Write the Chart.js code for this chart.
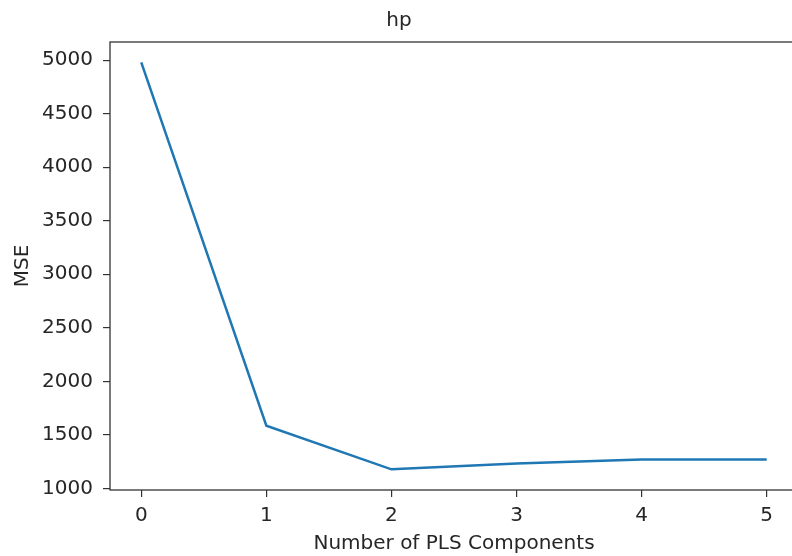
<!DOCTYPE html>
<html>
<head>
<meta charset="utf-8">
<script src="https://cdn.jsdelivr.net/npm/chart.js@4"></script>
<style>
  html, body { margin: 0; padding: 0; background: #fff; overflow: hidden; }
  #wrap { position: absolute; left: 0; top: 0; width: 800px; height: 556px; }
</style>
</head>
<body>
<div id="wrap"><canvas id="mseChart" width="800" height="556"></canvas></div>
<script>
// components on the x axis and the MSE
const components = [0, 1, 2, 3, 4, 5];
const mse = [4980, 1585, 1178, 1232, 1271, 1270];
const yTicks = [1000, 1500, 2000, 2500, 3000, 3500, 4000, 4500, 5000];

const axisColor = "#333333";
const textColor = "#262626";
const font = { family: "DejaVu Sans", size: 20, weight: "normal" };

// matplotlib style frame round the plot area
const framePlugin = {
    id: "frame",
    afterDraw(chart) {
        const a = chart.chartArea;
        const ctx = chart.ctx;
        ctx.save();
        ctx.strokeStyle = axisColor;
        ctx.lineWidth = 1.3;
        ctx.strokeRect(a.left, a.top, a.right - a.left, a.bottom - a.top);
        ctx.restore();
    }
};

new Chart(document.getElementById("mseChart"), {
    type: "line",
    data: {
        datasets: [{
            data: components.map((c, i) => ({ x: c, y: mse[i] })),
            borderColor: "#1f77b4",
            borderWidth: 2.5,
            pointRadius: 0,
            tension: 0,
            fill: false
        }]
    },
    options: {
        responsive: false,
        animation: false,
        layout: { padding: { left: 0, right: 2, top: 0, bottom: 0 } },
        plugins: {
            legend: { display: false },
            tooltip: { enabled: false },
            title: {
                display: true,
                text: "hp",
                color: textColor,
                font: font,
                padding: { top: 9, bottom: 9 }
            }
        },
        scales: {
            x: {
                type: "linear",
                min: -0.25,
                max: 5.25,
                afterFit: s => { s.height = 66; },
                grid: { drawOnChartArea: false, color: axisColor, tickLength: 7, lineWidth: 1.2 },
                border: { display: false },
                ticks: {
                    stepSize: 1,
                    includeBounds: false,
                    color: textColor,
                    font: font,
                    padding: 7,
                    maxRotation: 0
                },
                title: {
                    display: true,
                    text: "Number of PLS Components",
                    color: textColor,
                    font: font,
                    padding: { top: 4, bottom: 0 }
                }
            },
            y: {
                min: 985,
                max: 5170,
                afterFit: s => { s.width = 110; },
                afterBuildTicks: s => { s.ticks = yTicks.map(v => ({ value: v })); },
                grid: { drawOnChartArea: false, color: axisColor, tickLength: 7, lineWidth: 1.2 },
                border: { display: false },
                ticks: {
                    color: textColor,
                    font: font,
                    padding: 10,
                    callback: v => String(v)
                },
                title: {
                    display: true,
                    text: "MSE",
                    color: textColor,
                    font: font,
                    padding: { top: 11, bottom: 0 }
                }
            }
        }
    },
    plugins: [framePlugin]
});
</script>
</body>
</html>
